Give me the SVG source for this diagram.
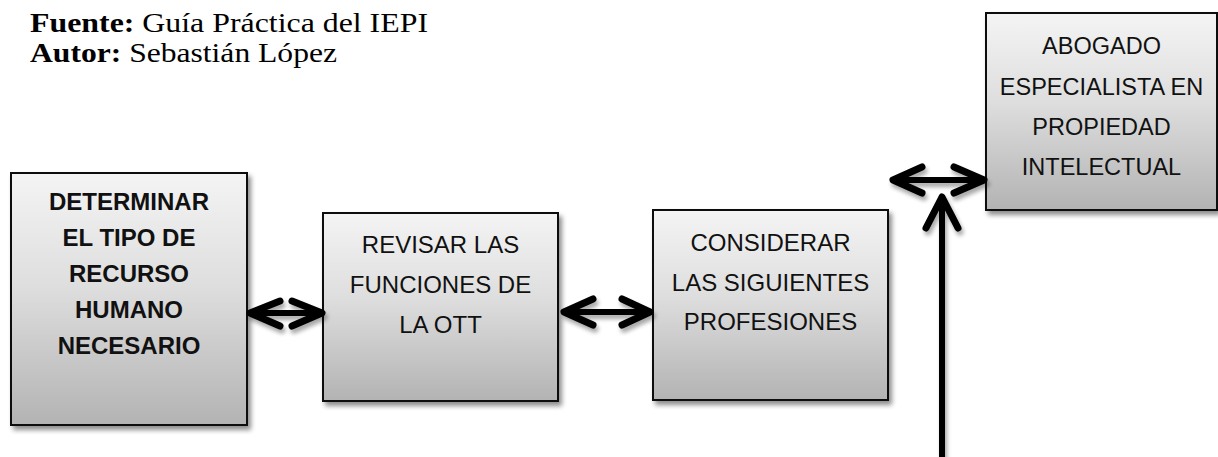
<svg xmlns="http://www.w3.org/2000/svg" width="1218" height="457" viewBox="0 0 1218 457">
<defs>
<linearGradient id="g" x1="0" y1="0" x2="0" y2="1">
<stop offset="0" stop-color="#f4f4f4"/>
<stop offset="0.45" stop-color="#dedede"/>
<stop offset="1" stop-color="#b3b3b3"/>
</linearGradient>
<filter id="sh" x="-10%" y="-10%" width="125%" height="125%">
<feGaussianBlur in="SourceAlpha" stdDeviation="2.5"/>
<feOffset dx="3" dy="4" result="b"/>
<feComponentTransfer><feFuncA type="linear" slope="0.45"/></feComponentTransfer>
<feMerge><feMergeNode/><feMergeNode in="SourceGraphic"/></feMerge>
</filter>
<filter id="ash" x="-20%" y="-40%" width="140%" height="180%">
<feGaussianBlur in="SourceAlpha" stdDeviation="2"/>
<feOffset dx="2" dy="4" result="b"/>
<feComponentTransfer><feFuncA type="linear" slope="0.35"/></feComponentTransfer>
<feMerge><feMergeNode/><feMergeNode in="SourceGraphic"/></feMerge>
</filter>
</defs>
<style>
.box{fill:url(#g);stroke:#111;stroke-width:2;filter:url(#sh)}
.t{font-family:"Liberation Sans",Arial,sans-serif;font-size:24px;fill:#111;text-anchor:middle}
.b{font-weight:bold}
.hd{font-family:"Liberation Serif","Times New Roman",serif;font-size:27.5px;fill:#000}
.ln{fill:none;stroke:#000;stroke-width:6;stroke-linecap:round;stroke-linejoin:round}
.hl{stroke-width:7}
</style>
<rect width="1218" height="457" fill="#fff"/>
<g id="header">
<text class="hd" x="30" y="32" textLength="398" lengthAdjust="spacingAndGlyphs"><tspan font-weight="bold">Fuente:</tspan> Guía Práctica del IEPI</text>
<text class="hd" x="30" y="62" textLength="307" lengthAdjust="spacingAndGlyphs"><tspan font-weight="bold">Autor:</tspan> Sebastián López</text>
</g>
<g id="node1">
<rect class="box" x="11" y="173" width="236" height="252"/>
<text class="t b" x="129" y="210">DETERMINAR</text>
<text class="t b" x="129" y="246">EL TIPO DE</text>
<text class="t b" x="129" y="282">RECURSO</text>
<text class="t b" x="129" y="318">HUMANO</text>
<text class="t b" x="129" y="354">NECESARIO</text>
</g>
<g id="node2">
<rect class="box" x="323" y="213" width="235" height="188"/>
<text class="t" x="440.5" y="253">REVISAR LAS</text>
<text class="t" x="440.5" y="293">FUNCIONES DE</text>
<text class="t" x="440.5" y="333">LA OTT</text>
</g>
<g id="node3">
<rect class="box" x="653" y="210" width="235" height="190"/>
<text class="t" x="770.5" y="251">CONSIDERAR</text>
<text class="t" x="770.5" y="291">LAS SIGUIENTES</text>
<text class="t" x="770.5" y="330">PROFESIONES</text>
</g>
<g id="node4">
<rect class="box" x="986" y="13" width="231" height="197"/>
<text class="t" x="1101.5" y="54" style="font-size:23.5px">ABOGADO</text>
<text class="t" x="1101.5" y="95" style="font-size:23.5px">ESPECIALISTA EN</text>
<text class="t" x="1101.5" y="135" style="font-size:23.5px">PROPIEDAD</text>
<text class="t" x="1101.5" y="175" style="font-size:23.5px">INTELECTUAL</text>
</g>
<g id="connectors" filter="url(#ash)">
<path class="ln" d="M250 313 H322"/>
<path class="ln hl" d="M280 301 L250 313 L280 326 M292 301 L322 313 L292 326"/>
<path class="ln" d="M564 312 H650"/>
<path class="ln hl" d="M593 299 L564 312 L593 325 M622 299 L650 312 L622 325"/>
<path class="ln" d="M893 180 H984"/>
<path class="ln hl" d="M922 167 L893 180 L922 193 M954 167 L984 180 L954 193"/>
<path class="ln" d="M942 457 V197"/>
<path class="ln hl" d="M926 228 L942 197 L958 228"/>
</g>
</svg>
